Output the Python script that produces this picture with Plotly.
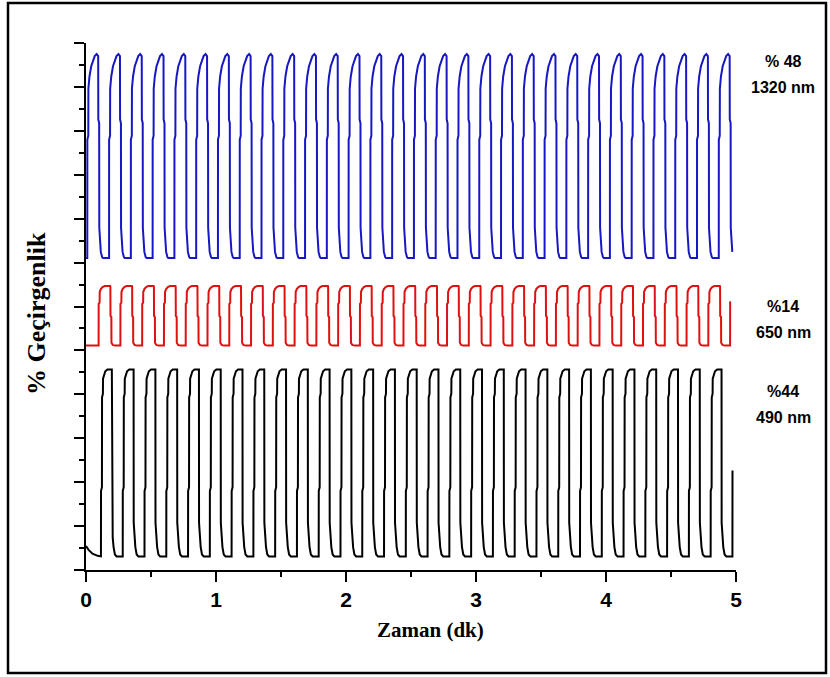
import plotly.graph_objects as go

# ---- switching schedule (minutes) ----
period = 0.1675          # one bleach/colour cycle
n_full = 29              # complete cycles before the final, cut-off one

# ---- series ----
names = ["1320 nm", "650 nm", "490 nm"]
contrast_labels = ["% 48", "%14", "%44"]
contrast = [48, 14, 44]              # optical contrast, % transmittance
trough = [73.4, 52.8, 3.2]           # baseline of each stacked trace
first_switch = [0.01, 0.097, 0.115]  # time of first bleaching step
colors = ["#1717c4", "#dd1111", "#000000"]

# ---- one cycle of each trace: phase (fraction of period) -> level (0..1) ----
blue_phase = [0.000, 0.002, 0.045, 0.050, 0.10, 0.18, 0.26, 0.34, 0.43, 0.50,
              0.505, 0.545, 0.550, 0.58, 0.62, 0.68, 0.72, 0.98]
blue_level = [0.00, 0.58, 0.60, 0.83, 0.89, 0.94, 0.97, 0.99, 1.00, 0.99,
              0.68, 0.66, 0.15, 0.07, 0.03, 0.005, 0.0, 0.0]

red_phase = [0.000, 0.003, 0.045, 0.050, 0.10, 0.18, 0.28, 0.53, 0.54,
             0.545, 0.585, 0.590, 0.65, 0.75, 0.98]
red_level = [0.00, 0.70, 0.72, 0.90, 0.95, 0.985, 1.00, 1.00, 0.99,
             0.50, 0.48, 0.05, 0.01, 0.0, 0.0]

black_phase = [0.000, 0.003, 0.045, 0.050, 0.090, 0.095, 0.20, 0.30, 0.50,
               0.505, 0.54, 0.58, 0.64, 0.72, 0.98]
black_level = [0.00, 0.35, 0.37, 0.85, 0.87, 0.95, 0.99, 1.00, 1.00,
               0.18, 0.10, 0.05, 0.01, 0.0, 0.0]

# leading segment before the first switch: (time, level)
blue_head_t, blue_head_v = [0.0], [0.0]
red_head_t, red_head_v = [0.0], [0.0]
black_head_t = [0.0, 0.02, 0.05, 0.09]
black_head_v = [0.055, 0.035, 0.015, 0.003]

# final, truncated cycle: (phase, level)
blue_tail_phase = blue_phase[:15]
blue_tail_level = blue_level[:15]
red_tail_phase, red_tail_level = [0.000, 0.003, 0.030], [0.00, 0.73, 0.74]
black_tail_phase, black_tail_level = [0.000, 0.003], [0.00, 0.46]

templates = [
    (blue_head_t, blue_head_v, blue_phase, blue_level, blue_tail_phase, blue_tail_level),
    (red_head_t, red_head_v, red_phase, red_level, red_tail_phase, red_tail_level),
    (black_head_t, black_head_v, black_phase, black_level, black_tail_phase, black_tail_level),
]


def build_trace(t0, base, amp, head_t, head_v, ph, lv, tail_ph, tail_lv):
    xs = list(head_t)
    ys = [base + amp * v for v in head_v]
    for k in range(n_full):
        start = t0 + k * period
        xs += [start + p * period for p in ph]
        ys += [base + amp * v for v in lv]
    start = t0 + n_full * period
    xs += [start + p * period for p in tail_ph]
    ys += [base + amp * v for v in tail_lv]
    return xs, ys


fig = go.Figure()
for i in range(3):
    ht, hv, ph, lv, tph, tlv = templates[i]
    xs, ys = build_trace(first_switch[i], trough[i], contrast[i], ht, hv, ph, lv, tph, tlv)
    fig.add_trace(go.Scatter(x=xs, y=ys, mode="lines", name=names[i],
                             line=dict(color=colors[i], width=2), showlegend=False))

# plot area geometry (px)
L, R, T, B = 86, 94, 43, 107
W, H = 830 - L - R, 677 - T - B
y_max = 124.0


def px_x(px):
    return (px - L) / W


def px_y(py):
    return (677 - B - py) / H


# labels on the right: contrast above wavelength
label_rows = [(62, 87), (306, 332), (391, 417)]
annotations = []
for i in range(3):
    for txt, py in zip([contrast_labels[i], names[i]], label_rows[i]):
        annotations.append(dict(
            text="<b>%s</b>" % txt, xref="paper", yref="paper",
            x=px_x(783), y=px_y(py), xanchor="center", yanchor="middle",
            showarrow=False, font=dict(family="Liberation Sans", size=16, color="black")))

annotations.append(dict(
    text="<b>% Geçirgenlik</b>", xref="paper", yref="paper", textangle=-90,
    x=px_x(37), y=px_y(314), xanchor="center", yanchor="middle", showarrow=False,
    font=dict(family="Liberation Serif", size=26, color="black")))
annotations.append(dict(
    text="<b>Zaman (dk)</b>", xref="paper", yref="paper",
    x=px_x(430), y=px_y(630), xanchor="center", yanchor="middle", showarrow=False,
    font=dict(family="Liberation Serif", size=21, color="black")))

fig.update_layout(
    width=830, height=677,
    margin=dict(l=L, r=R, t=T, b=B),
    paper_bgcolor="white", plot_bgcolor="white",
    annotations=annotations,
    shapes=[dict(type="rect", xref="paper", yref="paper",
                 x0=px_x(8), x1=px_x(826), y0=px_y(673), y1=px_y(3),
                 line=dict(color="black", width=2.5), fillcolor="rgba(0,0,0,0)")],
)

fig.update_xaxes(
    range=[0, 5], showgrid=False, zeroline=False,
    showline=True, linecolor="black", linewidth=2,
    ticks="outside", ticklen=10, tickwidth=2, tickcolor="black",
    tick0=0, dtick=1,
    tickfont=dict(family="Liberation Sans", size=21, color="black", weight="bold"),
    minor=dict(ticks="outside", ticklen=5, tickwidth=2, tickcolor="black", dtick=0.5, tick0=0),
)
fig.update_yaxes(
    range=[0, y_max], showgrid=False, zeroline=False,
    showline=True, linecolor="black", linewidth=2,
    ticks="outside", ticklen=10, tickwidth=2, tickcolor="black",
    tick0=0, dtick=y_max / 12, showticklabels=False,
    minor=dict(ticks="outside", ticklen=5, tickwidth=2, tickcolor="black",
               dtick=y_max / 24, tick0=0),
)

fig.write_html("out.html")
